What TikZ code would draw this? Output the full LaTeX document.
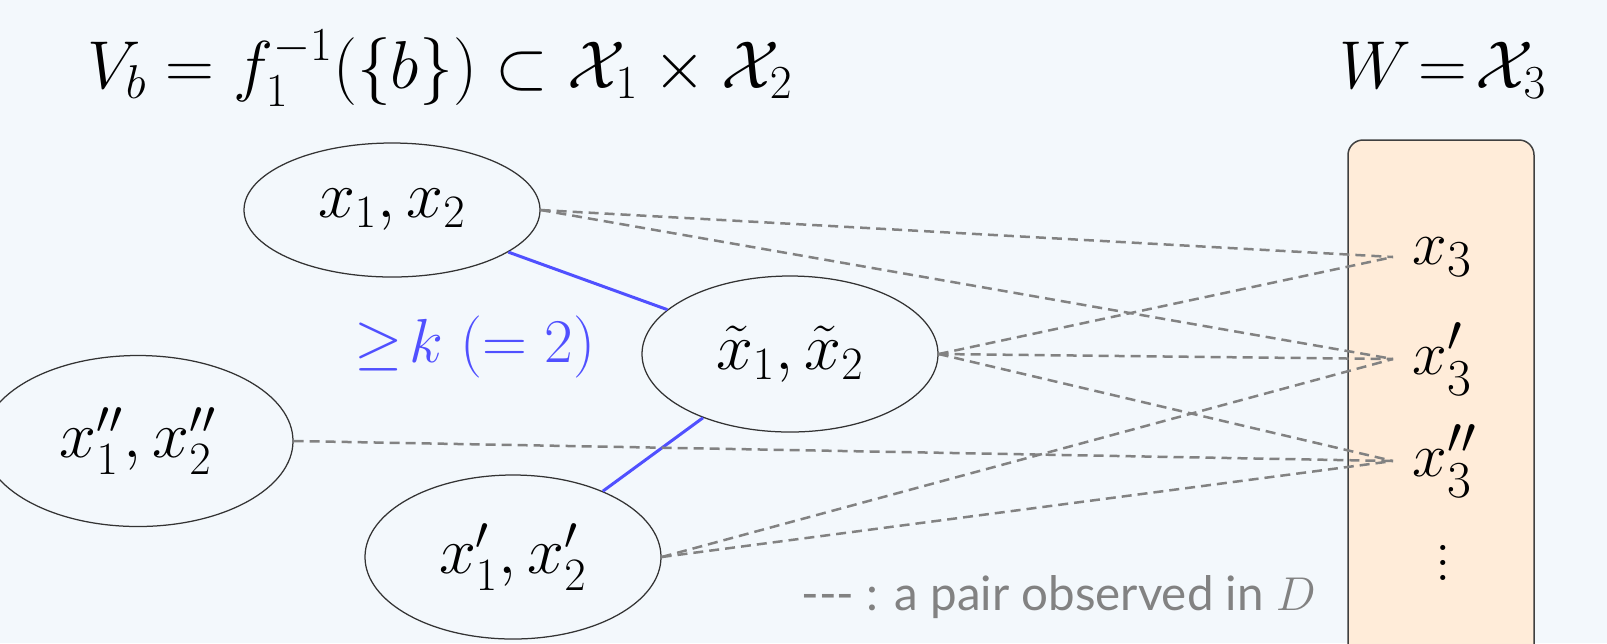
\RequirePackage{fix-cm}
\documentclass[tikz,border=0pt]{standalone}
\usepackage{amsmath}
\usepackage{amssymb}
\usepackage{fontspec}
\usepackage{xcolor}
\usetikzlibrary{shapes.geometric}

\newfontfamily\legendfont{Lato}

\definecolor{bgblue}{RGB}{243,248,252}
\definecolor{peach}{RGB}{255,236,217}
\definecolor{kblue}{RGB}{80,80,255}
\definecolor{dashgray}{RGB}{130,130,130}

\begin{document}
\begin{tikzpicture}[
    x=0.4pt, y=-0.4pt,
    pair/.style={ellipse, draw=black!80, line width=0.5pt, inner sep=0pt, minimum width=118.4pt, font=\fontsize{26.5}{32}\selectfont},
    elem/.style={anchor=west, inner xsep=7.6pt, inner ysep=0pt, font=\fontsize{24.88}{30}\selectfont},
    heading/.style={anchor=base, inner sep=0pt, font=\fontsize{27.1}{33}\selectfont},
    obs/.style={draw=dashgray, line width=1pt, dash pattern=on 4pt off 2.4pt},
    link/.style={draw=kblue, line width=1.2pt}
]

% Canvas
\useasboundingbox (0,0) rectangle (1607,643);
\fill[bgblue] (0,0) rectangle (1607,643);
\clip (0,0) rectangle (1607,643);

% Headings
\node[heading] (vb) at (440,88) {$V_b = f_1^{-1}(\{b\}) \subset \mathcal{X}_1 \times \mathcal{X}_2$};
\node[heading] (wx) at (1443,88) {$W \!=\! \mathcal{X}_3$};

% Set W
\draw[draw=black!75, fill=peach, rounded corners=6pt, line width=0.6pt] (1348,140) rectangle (1534,700);
\node[elem] (w) at (1393,257) {$x_3$};
\node[elem] (wd) at (1393,359) {$x_3'$};
\node[elem] (wdd) at (1393,461) {$x_3''$};
\node[font=\fontsize{16.5}{20}\selectfont] (wdots) at (1443,552) {\scalebox{1.5}{$\vdots$}};

% Pairs in V_b
\node[pair, minimum height=53.6pt] (pair) at (392,210) {$x_1, x_2$};
\node[pair, minimum height=62.4pt] (pairtl) at (790,354) {$\tilde{x}_1, \tilde{x}_2$};
\node[pair, minimum width=124pt, minimum height=68.4pt] (pairdd) at (138,441) {$x_1'', x_2''$};
\node[pair, minimum height=65.6pt] (paird) at (513,557) {$x_1', x_2'$};

% Close pairs
\draw[link] (pair) -- (pairtl);
\draw[link] (pairtl) -- (paird);
\node[font=\fontsize{24.88}{30}\selectfont, text=kblue] (klabel) at (475,347) {$\geq\!k\;(=2)$};

% Observed pairs
\draw[obs] (pair.east) -- (w.west);
\draw[obs] (pair.east) -- (wd.west);
\draw[obs] (pairtl.east) -- (w.west);
\draw[obs] (pairtl.east) -- (wd.west);
\draw[obs] (pairtl.east) -- (wdd.west);
\draw[obs] (pairdd.east) -- (wdd.west);
\draw[obs] (paird.east) -- (wd.west);
\draw[obs] (paird.east) -- (wdd.west);

% Legend
\node[anchor=base west, inner sep=0pt, text=dashgray, font=\legendfont\fontsize{19}{23}\selectfont] (legend) at (801,610) {-\kern0pt-\kern0pt- : a pair observed in $D$};

\end{tikzpicture}
\end{document}
